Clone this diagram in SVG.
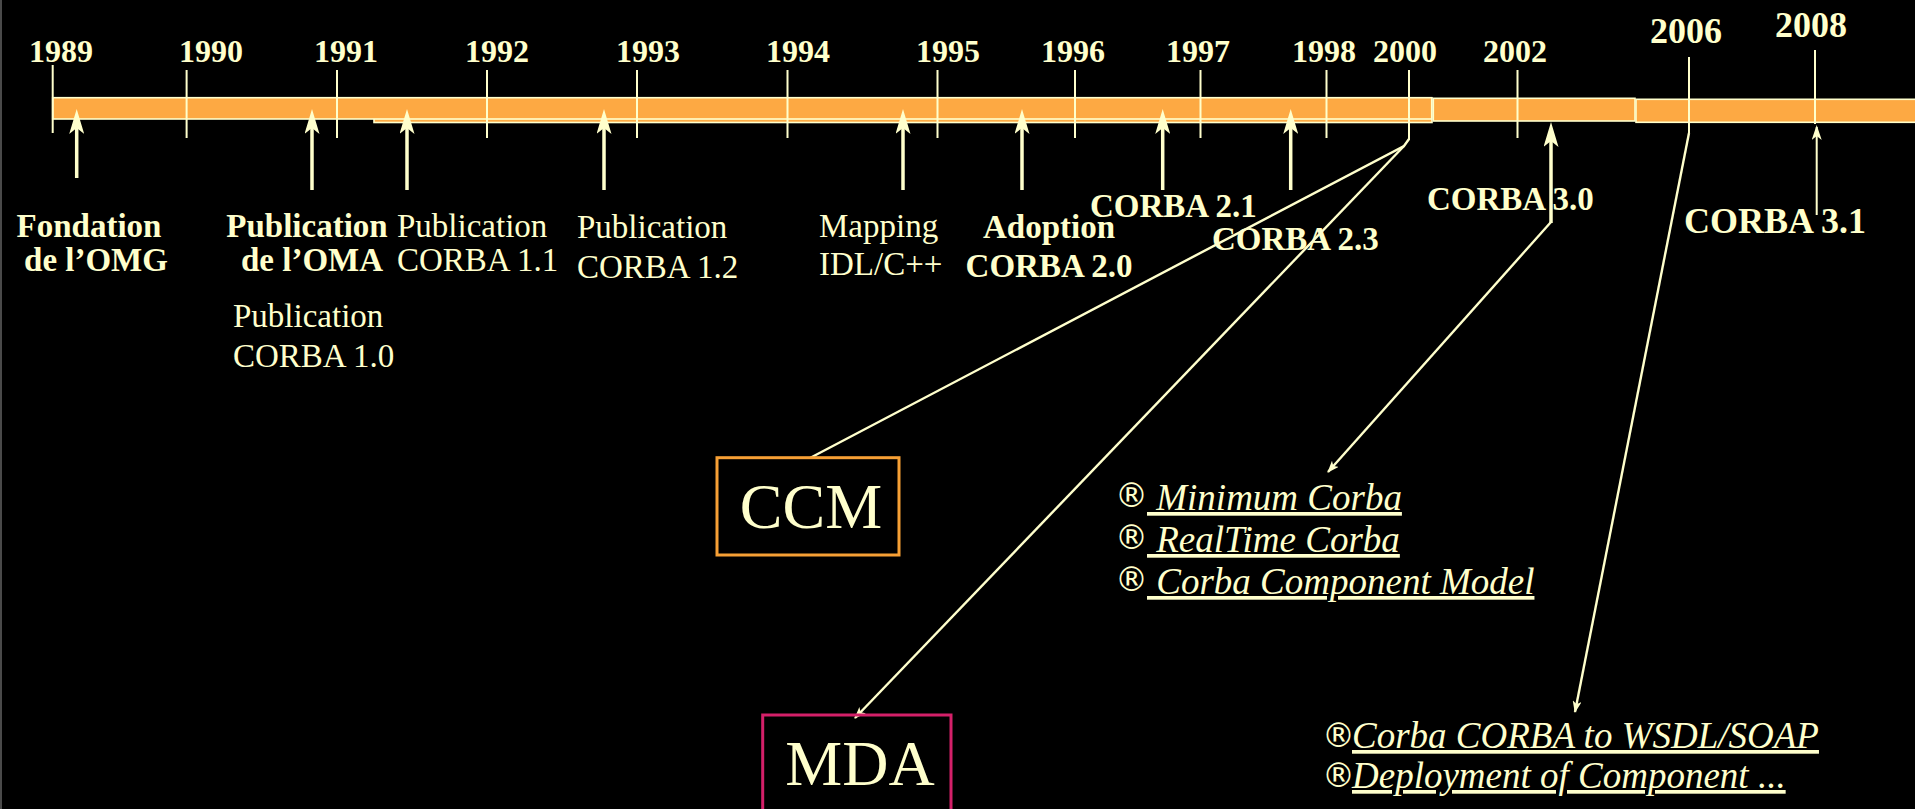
<svg xmlns="http://www.w3.org/2000/svg" width="1915" height="809" viewBox="0 0 1915 809">
<style>
text{font-family:"Liberation Serif","Times New Roman",serif;fill:#FFFFCC}
.yr{font-size:32px;font-weight:bold;text-anchor:middle}
.yrb{font-size:36px;font-weight:bold;text-anchor:middle}
.lb{font-size:33px}
.lbb{font-size:33px;font-weight:bold}
.mid{text-anchor:middle}
.big{font-size:64px;text-anchor:middle}
.it{font-size:37px;font-style:italic;text-decoration:underline}
.reg{font-family:"DejaVu Sans",sans-serif;font-size:33px;font-style:normal;text-decoration:none}
.bar{fill:#FDA943;stroke:#FFFFCC;stroke-width:1.6}
.tick{stroke:#FFFFCC;stroke-width:2;fill:none}
.arr{stroke:#FFFFCC;stroke-width:3.5;fill:none;marker-end:url(#big)}
.con{stroke:#FFFFCC;stroke-width:2.4;fill:none}
.cona{stroke:#FFFFCC;stroke-width:2.4;fill:none;marker-end:url(#sm)}
</style>
<defs>
<marker id="big" viewBox="0 0 25 15" refX="6" refY="7.5" markerWidth="25" markerHeight="15" markerUnits="userSpaceOnUse" orient="auto">
<path d="M25,7.5 L0,0 L6,7.5 L0,15 Z" fill="#FFFFCC"/>
</marker>
<marker id="sm" viewBox="0 0 12 9" refX="11" refY="4.5" markerWidth="12" markerHeight="9" markerUnits="userSpaceOnUse" orient="auto">
<path d="M12,4.5 L0,0 L3,4.5 L0,9 Z" fill="#FFFFCC"/>
</marker>
<marker id="md" viewBox="0 0 15 10" refX="13" refY="5" markerWidth="15" markerHeight="10" markerUnits="userSpaceOnUse" orient="auto">
<path d="M15,5 L0,0 L4,5 L0,10 Z" fill="#FFFFCC"/>
</marker>
</defs>
<rect x="0" y="0" width="1915" height="809" fill="#000"/>
<rect x="0" y="0" width="2" height="809" fill="#4a4a4a"/>

<g id="timeline">
<rect class="bar" x="374" y="98" width="1058" height="24.5"/>
<rect class="bar" x="52.7" y="97.7" width="1379" height="21.3"/>
<rect class="bar" x="1433.3" y="98.3" width="201.7" height="22.7"/>
<rect class="bar" x="1636" y="99.3" width="300" height="23"/>
</g>

<g id="year-1989"><line class="tick" x1="52.7" y1="65" x2="52.7" y2="133"/><text class="yr" x="61" y="62">1989</text></g>
<g id="year-1990"><line class="tick" x1="186.6" y1="70" x2="186.6" y2="138"/><text class="yr" x="211" y="62">1990</text></g>
<g id="year-1991"><line class="tick" x1="337" y1="70" x2="337" y2="138"/><text class="yr" x="346" y="62">1991</text></g>
<g id="year-1992"><line class="tick" x1="487" y1="70" x2="487" y2="138"/><text class="yr" x="497" y="62">1992</text></g>
<g id="year-1993"><line class="tick" x1="637" y1="70" x2="637" y2="138"/><text class="yr" x="648" y="62">1993</text></g>
<g id="year-1994"><line class="tick" x1="787.5" y1="70" x2="787.5" y2="138"/><text class="yr" x="798" y="62">1994</text></g>
<g id="year-1995"><line class="tick" x1="937.5" y1="70" x2="937.5" y2="138"/><text class="yr" x="948" y="62">1995</text></g>
<g id="year-1996"><line class="tick" x1="1075" y1="70" x2="1075" y2="138"/><text class="yr" x="1073" y="62">1996</text></g>
<g id="year-1997"><line class="tick" x1="1200.5" y1="70" x2="1200.5" y2="138"/><text class="yr" x="1198" y="62">1997</text></g>
<g id="year-1998"><line class="tick" x1="1326.5" y1="70" x2="1326.5" y2="138"/><text class="yr" x="1324" y="62">1998</text></g>
<g id="year-2000"><line class="tick" x1="1409" y1="70" x2="1409" y2="140"/><text class="yr" x="1405" y="62">2000</text></g>
<g id="year-2002"><line class="tick" x1="1517.5" y1="70" x2="1517.5" y2="138"/><text class="yr" x="1515" y="62">2002</text></g>
<g id="year-2006"><line class="tick" x1="1689" y1="57" x2="1689" y2="133"/><text class="yrb" x="1686" y="43">2006</text></g>
<g id="year-2008"><line class="tick" x1="1815" y1="50" x2="1815" y2="124"/><text class="yrb" x="1811" y="37">2008</text></g>

<g id="connectors">
<line class="arr" x1="76.7" y1="178" x2="76.7" y2="128"/>
<line class="arr" x1="312" y1="190" x2="312" y2="128"/>
<line class="arr" x1="407" y1="190" x2="407" y2="128"/>
<line class="arr" x1="604" y1="190" x2="604" y2="128"/>
<line class="arr" x1="903" y1="190" x2="903" y2="128"/>
<line class="arr" x1="1022" y1="190" x2="1022" y2="128"/>
<line class="arr" x1="1162.7" y1="190" x2="1162.7" y2="128"/>
<line class="arr" x1="1290.7" y1="190" x2="1290.7" y2="128"/>
<line class="arr" x1="1551" y1="223" x2="1551" y2="141"/>
<path class="cona" d="M1551,222 L1328,472"/>
<path class="con" d="M1409,139 L1404,146 L810,458"/>
<path class="cona" d="M1404,146 L855,718"/>
<path class="cona" d="M1689,133 L1575,712"/>
<line x1="1816.7" y1="215" x2="1816.7" y2="127" stroke="#FFFFCC" stroke-width="2" marker-end="url(#md)"/>
</g>

<g id="ev-omg"><text class="lbb mid" x="89" y="237">Fondation</text><text class="lbb mid" x="96" y="271">de l’OMG</text></g>
<g id="ev-oma"><text class="lbb mid" x="307" y="237">Publication</text><text class="lbb mid" x="312" y="271">de l’OMA</text></g>
<g id="ev-corba10"><text class="lb" x="233" y="327">Publication</text><text class="lb" x="233" y="367">CORBA 1.0</text></g>
<g id="ev-corba11"><text class="lb" x="397" y="237">Publication</text><text class="lb" x="397" y="271">CORBA 1.1</text></g>
<g id="ev-corba12"><text class="lb" x="577" y="238">Publication</text><text class="lb" x="577" y="278">CORBA 1.2</text></g>
<g id="ev-mapping"><text class="lb" x="819" y="237">Mapping</text><text class="lb" x="819" y="275">IDL/C++</text></g>
<g id="ev-corba20"><text class="lbb mid" x="1049" y="238">Adoption</text><text class="lbb mid" x="1049" y="277">CORBA 2.0</text></g>
<g id="ev-corba21"><text class="lbb" x="1090" y="217">CORBA 2.1</text></g>
<g id="ev-corba23"><text class="lbb" x="1212" y="250">CORBA 2.3</text></g>
<g id="ev-corba30"><text class="lbb" x="1427" y="210">CORBA 3.0</text></g>
<g id="ev-corba31"><text style="font-size:36px;font-weight:bold" x="1684" y="233">CORBA 3.1</text></g>

<g id="ccm"><rect x="717" y="457.7" width="182" height="97.3" fill="none" stroke="#F7A035" stroke-width="3"/><text class="big" x="811" y="528">CCM</text></g>
<g id="mda"><rect x="762.7" y="715" width="188.3" height="120" fill="none" stroke="#D42069" stroke-width="3"/><text class="big" x="860" y="785">MDA</text></g>

<g id="list-corba3">
<text x="1115" y="510" xml:space="preserve"><tspan class="reg" dy="-3">®</tspan><tspan class="it" x="1147" dy="3"> Minimum Corba</tspan></text>
<text x="1115" y="552" xml:space="preserve"><tspan class="reg" dy="-3">®</tspan><tspan class="it" x="1147" dy="3"> RealTime Corba</tspan></text>
<text x="1115" y="594" xml:space="preserve"><tspan class="reg" dy="-3">®</tspan><tspan class="it" x="1147" dy="3"> Corba Component Model</tspan></text>
</g>
<g id="list-corba31">
<text x="1322" y="748"><tspan class="reg" dy="-1">®</tspan><tspan class="it" x="1352" dy="1">Corba CORBA to WSDL/SOAP</tspan></text>
<text x="1322" y="788"><tspan class="reg" dy="-1">®</tspan><tspan class="it" x="1352" dy="1">Deployment of Component ...</tspan></text>
</g>
</svg>
